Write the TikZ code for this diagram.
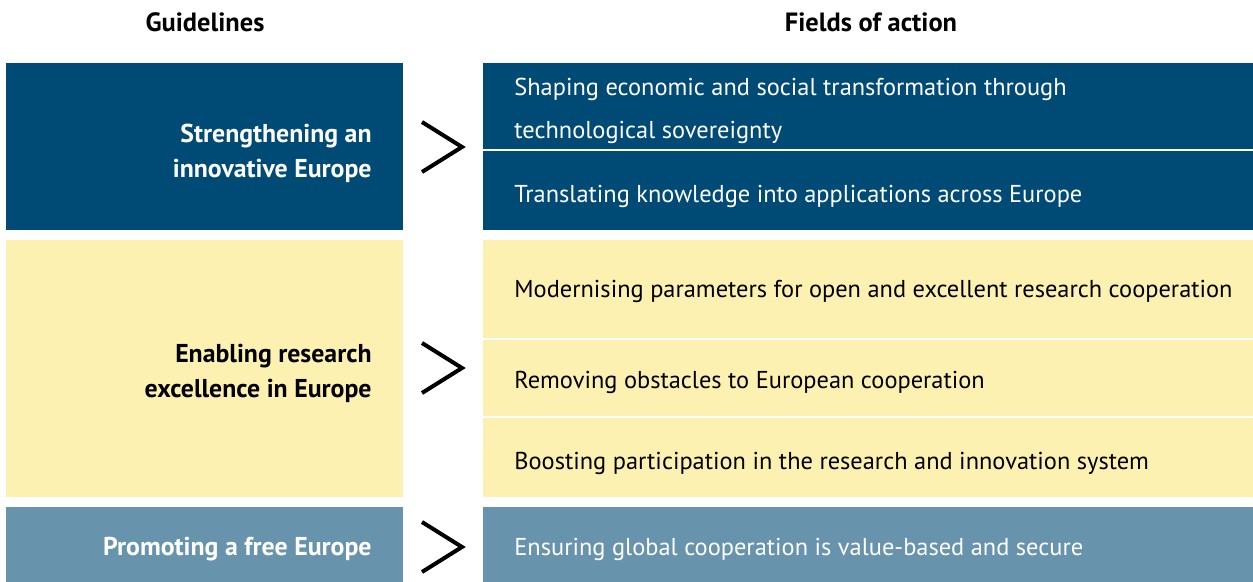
\documentclass[tikz,border=0pt]{standalone}
\usepackage{fontspec}
\setmainfont{PT Sans}
\definecolor{darkblue}{HTML}{004B76}
\definecolor{paleyellow}{HTML}{FCF1B1}
\definecolor{steelblue}{HTML}{6893AD}
\tikzset{
  heading/.style={inner sep=0pt, font=\bfseries\fontsize{13.2}{15}\selectfont},
  guide/.style={anchor=east, align=right, inner sep=0pt, font=\bfseries\fontsize{12.9}{17.5}\selectfont},
  field/.style={anchor=west, align=left, inner sep=0pt, font=\fontsize{12.2}{21.5}\selectfont},
  chevron/.style={line width=2pt, line join=miter},
  divider/.style={white, line width=1pt}
}
\begin{document}
\begin{tikzpicture}[x=0.5pt,y=-0.5pt]
  %%%%% START %%%%%
  \useasboundingbox (0,0) rectangle (1253,582);

  % headings
  \node[heading] (hguide) at (205,22) {Guidelines};
  \node[heading] (hfield) at (871,22) {Fields of action};

  % row 1
  \fill[darkblue] (6,63) rectangle (403,230);
  \fill[darkblue] (483,63) rectangle (1253,230);
  \draw[divider] (483,150) -- (1253,150);

  % row 2
  \fill[paleyellow] (6,240) rectangle (403,497);
  \fill[paleyellow] (483,240) rectangle (1253,497);
  \draw[divider] (483,339.5) -- (1253,339.5);
  \draw[divider] (483,417.5) -- (1253,417.5);

  % row 3
  \fill[steelblue] (6,507) rectangle (403,582);
  \fill[steelblue] (483,507) rectangle (1253,582);

  % chevrons
  \draw[chevron] (422,122) -- (462,147) -- (422,172);
  \draw[chevron] (422,343) -- (462,368) -- (422,393);
  \draw[chevron] (422,522) -- (462,547) -- (422,572);

  % guidelines
  \node[guide, white] (g1) at (372,153) {Strengthening an\\innovative Europe};
  \node[guide] (g2) at (372,373.5) {Enabling research\\excellence in Europe};
  \node[guide, white] (g3) at (372,549.5) {Promoting a free Europe};

  % fields of action
  \node[field, white] (f1) at (514,110.5) {Shaping economic and social transformation through\\technological sovereignty};
  \node[field, white] (f2) at (514,196.5) {Translating knowledge into applications across Europe};
  \node[field] (f3) at (514,291) {Modernising parameters for open and excellent research cooperation};
  \node[field] (f4) at (514,382) {Removing obstacles to European cooperation};
  \node[field] (f5) at (514,463) {Boosting participation in the research and innovation system};
  \node[field, white] (f6) at (514,549.5) {Ensuring global cooperation is value-based and secure};
  %%%%% END %%%%%
\end{tikzpicture}
\end{document}
